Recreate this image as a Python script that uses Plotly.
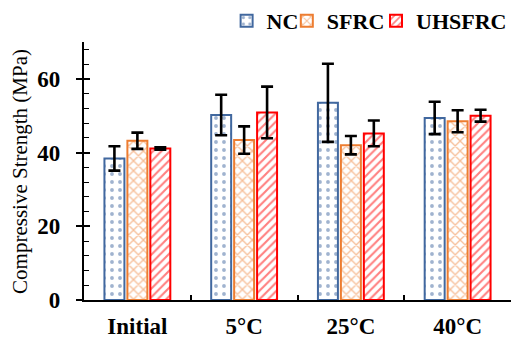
import plotly.graph_objects as go

categories = ["Initial", "5°C", "25°C", "40°C"]
series_names = ["NC", "SFRC", "UHSFRC"]
nc_values = [38.4, 50.2, 53.5, 49.4]
nc_err = [3.3, 5.5, 10.6, 4.4]
sfrc_values = [43.2, 43.4, 42.0, 48.5]
sfrc_err = [2.2, 3.7, 2.5, 3.0]
uhsfrc_values = [41.1, 50.9, 45.2, 50.0]
uhsfrc_err = [0.3, 7.0, 3.5, 1.6]
y_title = "Compressive Strength (MPa)"

colors = ["#41689F", "#ED7D31", "#FF0000"]
shapes = [".", "x", "/"]
pat_sizes = [8, 7, 6]
pat_solid = [0.18, 0.35, 0.35]
legend_ids = ["legend", "legend2", "legend3"]
legend_x = [0.334, 0.475, 0.685]
FONT = "Liberation Serif"

fig = go.Figure()
for i, (name, vals, errs) in enumerate(zip(series_names,
                                           [nc_values, sfrc_values, uhsfrc_values],
                                           [nc_err, sfrc_err, uhsfrc_err])):
    col = colors[i]
    fig.add_trace(go.Bar(
        x=categories, y=vals, name=name, legend=legend_ids[i],
        marker=dict(color="white", line=dict(color=col, width=2),
                    pattern=dict(shape=shapes[i], fgcolor=col, bgcolor="white",
                                 size=pat_sizes[i], solidity=pat_solid[i])),
        error_y=dict(type="data", array=errs, visible=True, color="black",
                     thickness=2.6, width=6),
    ))

# invisible helper trace on overlay axis for inner half of major y ticks
fig.add_trace(go.Scatter(x=categories, y=[None] * len(categories), yaxis="y2",
                         showlegend=False, hoverinfo="skip"))

leg_common = dict(orientation="h", yref="container", y=1.0, xanchor="left",
                  yanchor="top", font=dict(size=22, family=FONT, weight="bold"),
                  itemwidth=30, bgcolor="rgba(0,0,0,0)")
layout_legends = {}
for lid, lx in zip(legend_ids, legend_x):
    layout_legends[lid] = dict(leg_common, x=lx)

fig.update_layout(
    width=512, height=343,
    margin=dict(l=84, r=1, t=35, b=43),
    paper_bgcolor="white", plot_bgcolor="white",
    barmode="group", bargap=0.355, bargroupgap=0.13,
    font=dict(family=FONT, color="black"),
    showlegend=True,
    **layout_legends,
    annotations=[dict(text=y_title, xref="paper", yref="paper", x=-0.15, y=0.5,
                      xanchor="center", yanchor="middle", textangle=-90,
                      showarrow=False, font=dict(size=21, family=FONT))],
)
fig.update_xaxes(
    showline=True, linecolor="black", linewidth=1.5,
    ticks="inside", tickson="boundaries", ticklen=5, tickcolor="black",
    tickwidth=1.5, ticklabelstandoff=5,
    tickfont=dict(size=23, family=FONT, weight="bold"),
    showgrid=False,
)
fig.update_layout(
    yaxis=dict(
        range=[0, 70], dtick=20, showline=True, linecolor="black", linewidth=1.5,
        ticks="outside", ticklen=6, tickcolor="black", tickwidth=1.5,
        ticksuffix="\u00a0\u00a0",
        tickfont=dict(size=23, family=FONT, weight="bold"),
        minor=dict(dtick=4, ticks="inside", ticklen=5, tickcolor="black", tickwidth=1),
        showgrid=False, zeroline=False,
    ),
    yaxis2=dict(
        range=[0, 70], dtick=20, overlaying="y", side="left", showline=False,
        ticks="inside", ticklen=6, tickcolor="black", tickwidth=1.5,
        showticklabels=False, showgrid=False, zeroline=False,
    ),
)

fig.write_html("out.html")
